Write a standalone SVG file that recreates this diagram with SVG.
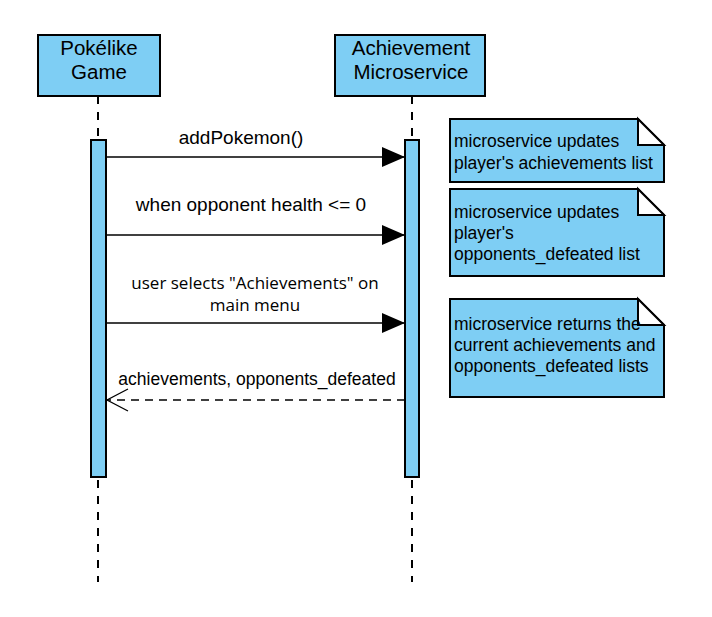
<svg xmlns="http://www.w3.org/2000/svg" width="712" height="617" viewBox="0 0 712 617">
<style>
.box{fill:#7ecef4;stroke:#000;stroke-width:2}
.act{fill:#7ecef4;stroke:#000;stroke-width:2}
.life{stroke:#000;stroke-width:2;stroke-dasharray:8 8;fill:none}
.msg{stroke:#000;stroke-width:1.3;fill:none}
.ret{stroke:#000;stroke-width:1.3;fill:none;stroke-dasharray:8 6}
.hdr{font-family:"Liberation Sans",Arial,sans-serif;font-size:20.5px;fill:#000;text-anchor:middle}
.lbl{font-family:"Liberation Sans",Arial,sans-serif;font-size:17.5px;fill:#000;text-anchor:middle}
.lbl2{font-family:"Open Sans","Noto Sans",sans-serif;font-size:17px;fill:#000;text-anchor:middle}
.nt{font-family:"Liberation Sans",Arial,sans-serif;font-size:17.5px;fill:#000}
.note{fill:#7ecef4;stroke:#000;stroke-width:2}
.fold{fill:#fff;stroke:#000;stroke-width:2}
</style>
<defs>
<marker id="filled" markerWidth="24" markerHeight="22" refX="23" refY="11" orient="auto" markerUnits="userSpaceOnUse">
<path d="M0,1 L23,11 L0,21 Z" fill="#000"/>
</marker>
<marker id="open" markerWidth="24" markerHeight="26" refX="22" refY="13" orient="auto" markerUnits="userSpaceOnUse">
<path d="M1,2 L22,13 L1,24" fill="none" stroke="#000" stroke-width="1.3"/>
</marker>
</defs>
<rect width="712" height="617" fill="#fff"/>
<g id="game">
<line class="life" x1="98" y1="96" x2="98" y2="582"/>
<rect class="box" x="38" y="35" width="122" height="61"/>
<text class="hdr" x="99" y="55">Pokélike</text>
<text class="hdr" x="99" y="79">Game</text>
<rect class="act" x="91" y="140" width="15" height="337"/>
</g>
<g id="microservice">
<line class="life" x1="412" y1="96" x2="412" y2="582"/>
<rect class="box" x="335" y="35" width="150" height="61"/>
<text class="hdr" x="411" y="55">Achievement</text>
<text class="hdr" x="411" y="79">Microservice</text>
<rect class="act" x="405" y="140" width="14" height="337"/>
</g>
<g id="note1">
<path class="note" d="M450,119 H638 L664,145 V182 H450 Z"/>
<path class="fold" d="M638,119 V145 H664 Z"/>
<text class="nt" x="454" y="147">microservice updates</text>
<text class="nt" x="454" y="169">player's achievements list</text>
</g>
<g id="note2">
<path class="note" d="M450,189 H638 L664,215 V276 H450 Z"/>
<path class="fold" d="M638,189 V215 H664 Z"/>
<text class="nt" x="454" y="218">microservice updates</text>
<text class="nt" x="454" y="239">player's</text>
<text class="nt" x="454" y="260">opponents_defeated list</text>
</g>
<g id="note3">
<path class="note" d="M450,299 H638 L664,325 V397 H450 Z"/>
<path class="fold" d="M638,299 V325 H664 Z"/>
<text class="nt" x="454" y="330">microservice returns the</text>
<text class="nt" x="454" y="351">current achievements and</text>
<text class="nt" x="454" y="372">opponents_defeated lists</text>
</g>
<g id="connectors">
<line class="msg" x1="106" y1="157" x2="405" y2="157" marker-end="url(#filled)"/>
<text class="lbl" x="241" y="144" style="font-size:19px">addPokemon()</text>
<line class="msg" x1="106" y1="235" x2="405" y2="235" marker-end="url(#filled)"/>
<text class="lbl" x="251" y="211" style="font-size:19px">when opponent health &lt;= 0</text>
<line class="msg" x1="106" y1="323" x2="405" y2="323" marker-end="url(#filled)"/>
<text class="lbl2" x="255" y="289">user selects "Achievements" on</text>
<text class="lbl2" x="255" y="311">main menu</text>
<line class="ret" x1="405" y1="400" x2="107" y2="400" marker-end="url(#open)"/>
<text class="lbl" x="257" y="385">achievements, opponents_defeated</text>
</g>
</svg>
